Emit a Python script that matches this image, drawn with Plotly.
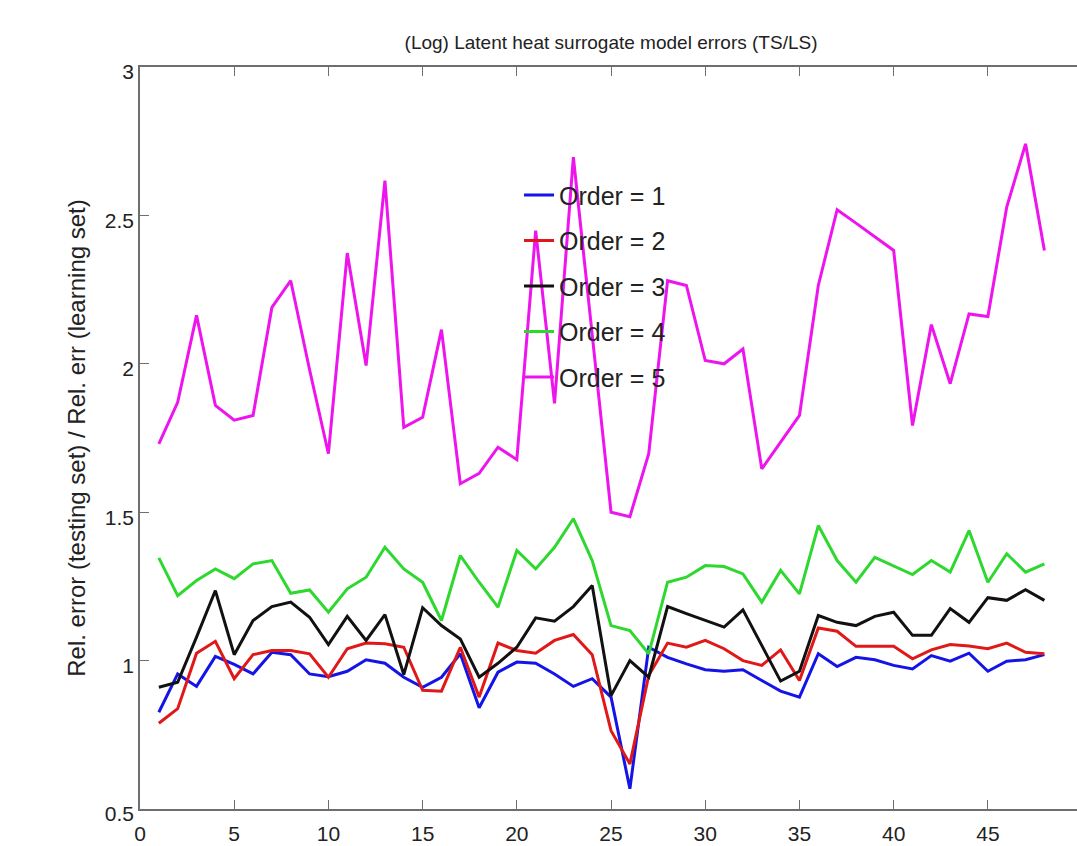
import plotly.graph_objects as go

x = list(range(1, 49))

order1 = [0.826, 0.955, 0.913, 1.014, 0.987, 0.955, 1.028, 1.020, 0.955, 0.946,
          0.964, 1.003, 0.991, 0.944, 0.910, 0.944, 1.023, 0.841, 0.961, 0.995,
          0.991, 0.955, 0.913, 0.939, 0.877, 0.568, 1.045, 1.011, 0.989, 0.969,
          0.964, 0.969, 0.933, 0.897, 0.877, 1.023, 0.980, 1.011, 1.003, 0.984,
          0.972, 1.017, 0.998, 1.025, 0.964, 0.998, 1.003, 1.020]
order2 = [0.789, 0.838, 1.025, 1.065, 0.939, 1.020, 1.034, 1.034, 1.023, 0.944,
          1.040, 1.059, 1.057, 1.045, 0.900, 0.897, 1.045, 0.877, 1.059, 1.034,
          1.025, 1.068, 1.088, 1.020, 0.764, 0.652, 0.950, 1.059, 1.045, 1.068,
          1.040, 1.000, 0.984, 1.036, 0.933, 1.110, 1.099, 1.048, 1.048, 1.048,
          1.006, 1.036, 1.054, 1.049, 1.040, 1.059, 1.028, 1.023]
order3 = [0.910, 0.927, 1.079, 1.236, 1.020, 1.135, 1.182, 1.197, 1.146, 1.054,
          1.149, 1.068, 1.155, 0.953, 1.178, 1.118, 1.073, 0.944, 0.991, 1.045,
          1.144, 1.133, 1.182, 1.253, 0.882, 1.000, 0.944, 1.182, 1.158, 1.135,
          1.113, 1.171, 1.051, 0.931, 0.964, 1.152, 1.129, 1.118, 1.149, 1.163,
          1.085, 1.085, 1.175, 1.129, 1.212, 1.203, 1.239, 1.203]
order4 = [1.346, 1.219, 1.270, 1.309, 1.276, 1.326, 1.337, 1.227, 1.238, 1.163,
          1.242, 1.281, 1.382, 1.309, 1.264, 1.135, 1.354, 1.264, 1.180, 1.371,
          1.309, 1.382, 1.478, 1.337, 1.118, 1.101, 1.023, 1.264, 1.281, 1.320,
          1.317, 1.292, 1.197, 1.304, 1.225, 1.455, 1.337, 1.264, 1.348, 1.320,
          1.290, 1.337, 1.298, 1.438, 1.264, 1.360, 1.298, 1.326]
order5 = [1.730, 1.870, 2.163, 1.860, 1.810, 1.826, 2.190, 2.280, 1.980, 1.697,
          2.373, 1.994, 2.617, 1.786, 1.820, 2.115, 1.596, 1.631, 1.719, 1.677,
          2.449, 1.867, 2.696, 2.100, 1.500, 1.485, 1.697, 2.280, 2.264, 2.011,
          2.000, 2.050, 1.646, 1.736, 1.826, 2.264, 2.519, 2.474, 2.427, 2.382,
          1.792, 2.132, 1.933, 2.168, 2.159, 2.528, 2.741, 2.382]

series_names = ["Order = 1", "Order = 2", "Order = 3", "Order = 4", "Order = 5"]
series_colors = ["#1414e6", "#e01818", "#111111", "#2ed82e", "#ee14ee"]

x_ticks = [0, 5, 10, 15, 20, 25, 30, 35, 40, 45, 50]
y_ticks = [0.5, 1, 1.5, 2, 2.5, 3]
y_tick_text = ["0.5", "1", "1.5", "2", "2.5", "3"]
x_range = [0, 49.73]  # the original axes run to 50, just past the picture's right edge
y_range = [0.5, 3]

title_text = "(Log) Latent heat surrogate model errors (TS/LS)"
y_title = "Rel. error (testing set) / Rel. err (learning set)"

FONT = "Liberation Sans, Arial, Helvetica, sans-serif"
AX = "#6e6e6e"

fig = go.Figure()
for i, (name, ys, col) in enumerate(zip(series_names,
                                         [order1, order2, order3, order4, order5],
                                         series_colors)):
    fig.add_trace(go.Scatter(x=x, y=ys, mode="lines", name=name,
                             legendgroup=f"g{i}",
                             line=dict(color=col, width=3)))

tick_common = dict(ticks="inside", ticklen=9, tickwidth=1.2, tickcolor=AX,
                   showgrid=False, zeroline=False, automargin=False,
                   tickfont=dict(family=FONT, size=21, color="#222222"))

fig.update_layout(
    width=1077, height=846,
    margin=dict(l=140, r=0, t=67, b=37),
    paper_bgcolor="white", plot_bgcolor="white",
    title=dict(text=title_text, x=0.5027, xref="paper", y=1 - 42 / 846,
               yanchor="middle", xanchor="center",
               font=dict(family=FONT, size=19, color="#222222")),
    xaxis=dict(range=x_range, tickvals=x_ticks, ticklabelstandoff=5,
               showline=True, linecolor=AX, linewidth=1.5, mirror="ticks",
               **tick_common),
    yaxis=dict(range=y_range, tickvals=y_ticks, ticktext=y_tick_text,
               ticklabelshift=5,
               showline=True, linecolor=AX, linewidth=1.5, mirror=False,
               title=dict(text=y_title, standoff=12,
                          font=dict(family=FONT, size=24, color="#222222")),
               **tick_common),
    yaxis2=dict(range=y_range, tickvals=y_ticks, overlaying="y", side="right",
                showticklabels=False, showline=False, **tick_common),
    legend=dict(x=0.4045, y=0.858, xanchor="left", yanchor="top",
                bgcolor="rgba(0,0,0,0)", borderwidth=0,
                tracegroupgap=10,
                font=dict(family=FONT, size=25, color="#222222")),
    showlegend=True,
)

fig.write_html("out.html")
